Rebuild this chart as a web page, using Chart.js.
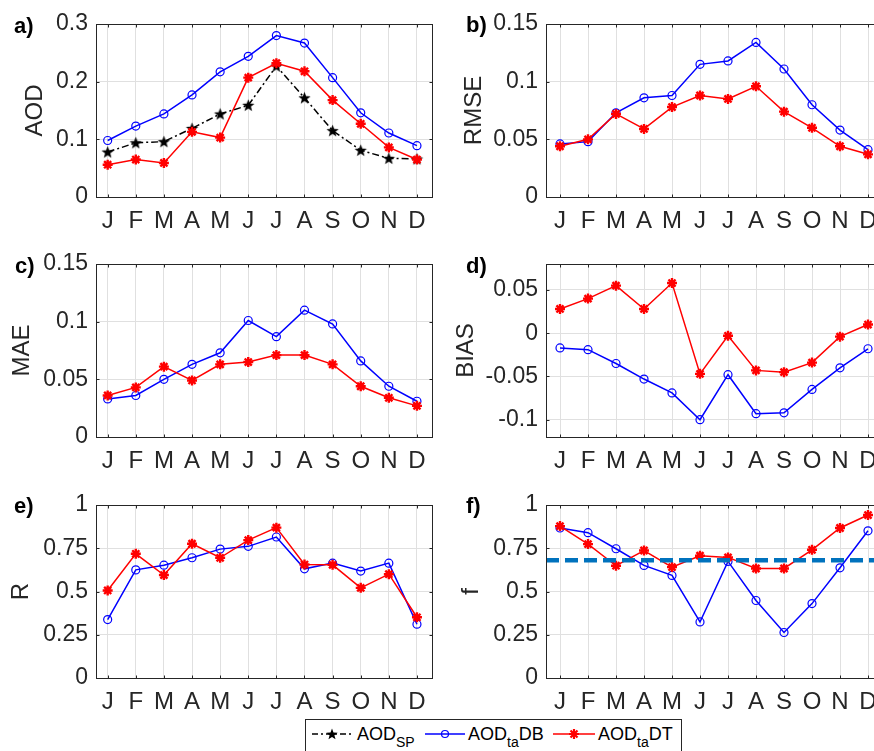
<!DOCTYPE html>
<html>
<head>
<meta charset="utf-8">
<script src="https://cdn.jsdelivr.net/npm/chart.js@4.4.0/dist/chart.umd.min.js"></script>
<style>
  html, body { margin: 0; padding: 0; background: #fff; width: 874px; height: 751px; overflow: hidden; }
  body { position: relative; font-family: 'Liberation Sans', Arial, sans-serif; }
  canvas { position: absolute; }
  .lbl { position: absolute; font: bold 22px 'Liberation Sans', Arial, sans-serif; line-height: 1; color: #000; }
  #legend { position: absolute; left: 305px; top: 719px; width: 375px; height: 50px; border: 1px solid #262626; background: #fff; }
  .lg { position: absolute; top: 725px; font-size: 18px; line-height: 1; color: #000; white-space: nowrap; }
  .lg sub { font-size: 14px; vertical-align: -7px; line-height: 0; }
  svg { position: absolute; }
</style>
</head>
<body>
<canvas id="pa" width="440" height="235" style="left:0;top:0"></canvas>
<canvas id="pb" width="450" height="235" style="left:440px;top:0"></canvas>
<canvas id="pc" width="440" height="235" style="left:0;top:240px"></canvas>
<canvas id="pd" width="450" height="235" style="left:440px;top:240px"></canvas>
<canvas id="pe" width="440" height="235" style="left:0;top:480px"></canvas>
<canvas id="pf" width="450" height="235" style="left:440px;top:480px"></canvas>

<div class="lbl" style="left:14px;top:15px">a)</div>
<div class="lbl" style="left:466px;top:14px">b)</div>
<div class="lbl" style="left:15px;top:255px">c)</div>
<div class="lbl" style="left:466px;top:255px">d)</div>
<div class="lbl" style="left:14px;top:495px">e)</div>
<div class="lbl" style="left:466px;top:495px">f)</div>

<div id="legend"></div>
<svg style="left:310px;top:726px" width="46" height="16">
  <line x1="2" y1="8" x2="43" y2="8" stroke="#000" stroke-width="1.5" stroke-dasharray="6,3,2,3"/>
  <polygon id="lgStar" fill="#000" points=""/>
</svg>
<div class="lg" style="left:357px">AOD<sub>SP</sub></div>
<svg style="left:423px;top:726px" width="46" height="16">
  <line x1="2" y1="8" x2="42" y2="8" stroke="#0000ff" stroke-width="1.5"/>
  <circle cx="22" cy="8" r="3.5" fill="none" stroke="#0000ff" stroke-width="1.2"/>
</svg>
<div class="lg" style="left:468px">AOD<sub>ta</sub>DB</div>
<svg style="left:551px;top:726px" width="46" height="16">
  <line x1="2" y1="8" x2="44" y2="8" stroke="#ff0000" stroke-width="1.5"/>
  <path d="M23 3 V13 M18 8 H28 M19.5 4.5 L26.5 11.5 M26.5 4.5 L19.5 11.5" stroke="#ff0000" stroke-width="2.2"/>
</svg>
<div class="lg" style="left:598px">AOD<sub>ta</sub>DT</div>

<script>
// ── Data ──────────────────────────────────────
const months = ['J', 'F', 'M', 'A', 'M', 'J', 'J', 'A', 'S', 'O', 'N', 'D'];

const aodSP  = [0.078, 0.094, 0.096, 0.119, 0.144, 0.159, 0.227, 0.172, 0.115, 0.081, 0.067, 0.066];
const aodDB  = [0.098, 0.123, 0.144, 0.177, 0.217, 0.244, 0.280, 0.267, 0.207, 0.146, 0.111, 0.089];
const aodDT  = [0.056, 0.065, 0.059, 0.113, 0.103, 0.207, 0.232, 0.218, 0.168, 0.127, 0.086, 0.065];

const rmseDB = [0.046, 0.048, 0.073, 0.086, 0.088, 0.115, 0.118, 0.134, 0.111, 0.080, 0.058, 0.041];
const rmseDT = [0.044, 0.050, 0.072, 0.059, 0.078, 0.088, 0.085, 0.096, 0.074, 0.060, 0.044, 0.037];

const maeDB  = [0.033, 0.036, 0.050, 0.063, 0.073, 0.101, 0.087, 0.110, 0.098, 0.066, 0.044, 0.031];
const maeDT  = [0.036, 0.043, 0.061, 0.049, 0.063, 0.065, 0.071, 0.071, 0.063, 0.044, 0.034, 0.027];

const biasDB = [-0.017, -0.019, -0.035, -0.053, -0.069, -0.100, -0.048, -0.093, -0.092, -0.065, -0.040, -0.018];
const biasDT = [0.028, 0.040, 0.055, 0.028, 0.058, -0.047, -0.003, -0.043, -0.045, -0.034, -0.004, 0.010];

const rDB    = [0.338, 0.625, 0.652, 0.695, 0.745, 0.761, 0.815, 0.631, 0.664, 0.618, 0.664, 0.311];
const rDT    = [0.506, 0.718, 0.595, 0.776, 0.695, 0.797, 0.869, 0.656, 0.654, 0.521, 0.600, 0.351];

const fDB    = [0.867, 0.840, 0.747, 0.651, 0.593, 0.324, 0.674, 0.448, 0.263, 0.430, 0.637, 0.851];
const fDT    = [0.878, 0.774, 0.649, 0.737, 0.641, 0.707, 0.697, 0.633, 0.633, 0.741, 0.867, 0.942];
const fRef   = 0.68;

// tick values per panel
const aodTicks  = [0, 0.1, 0.2, 0.3];
const rmseTicks = [0, 0.05, 0.1, 0.15];
const maeTicks  = [0, 0.05, 0.1, 0.15];
const biasTicks = [-0.1, -0.05, 0, 0.05];
const rTicks    = [0, 0.25, 0.5, 0.75, 1];
const fTicks    = [0, 0.25, 0.5, 0.75, 1];

// ── Styles ────────────────────────────────────
const FONT = "'Liberation Sans', Arial, sans-serif";
const AXIS = '#262626';
const GRID = '#e0e0e0';

function starPoints(r, cx, cy) {
  const pts = [];
  for (let i = 0; i < 10; i++) {
    const rad = i % 2 ? r * 0.42 : r;
    const a = -Math.PI / 2 + i * Math.PI / 5;
    pts.push([cx + rad * Math.cos(a), cy + rad * Math.sin(a)]);
  }
  return pts;
}

function makePentagram(r) {
  const c = document.createElement('canvas');
  const s = Math.ceil(r * 2 + 2);
  c.width = c.height = s;
  const g = c.getContext('2d');
  g.beginPath();
  starPoints(r, s / 2, s / 2 + 0.5).forEach(([x, y]) => g.lineTo(x, y));
  g.closePath();
  g.fillStyle = '#000';
  g.fill();
  return c;
}
const pentagram = makePentagram(6.5);

// legend star uses the same shape
document.getElementById('lgStar').setAttribute('points',
  starPoints(6, 22, 8.5).map(p => p[0].toFixed(2) + ',' + p[1].toFixed(2)).join(' '));

const toPoints = vals => vals.map((v, i) => ({ x: i + 1, y: v }));

function spSet(vals) {
  return {
    data: toPoints(vals), borderColor: '#000', borderWidth: 1.5, borderDash: [7, 3, 2, 3],
    pointStyle: pentagram, pointRadius: 6, tension: 0,
  };
}
function dbSet(vals) {
  return {
    data: toPoints(vals), borderColor: '#0000ff', borderWidth: 1.5,
    pointStyle: 'circle', pointRadius: 4, pointBorderWidth: 1.2,
    pointBorderColor: '#0000ff', pointBackgroundColor: 'rgba(0,0,0,0)', tension: 0,
  };
}
function dtSet(vals) {
  return {
    data: toPoints(vals), borderColor: '#ff0000', borderWidth: 1.5,
    pointStyle: 'star', pointRadius: 5, pointBorderWidth: 2.4,
    pointBorderColor: '#ff0000', pointBackgroundColor: '#ff0000', tension: 0,
  };
}

// ── MATLAB-style box + inner ticks ────────────
const boxPlugin = {
  id: 'matlabBox',
  afterDatasetsDraw(chart) {
    const { ctx, chartArea: a, scales: { x, y } } = chart;
    const L = Math.round(a.left) + 0.5, R = Math.round(a.right) + 0.5;
    const T = Math.round(a.top) + 0.5, B = Math.round(a.bottom) + 0.5;
    ctx.save();
    ctx.strokeStyle = AXIS;
    ctx.lineWidth = 1;
    ctx.beginPath();
    x.ticks.forEach(t => {
      const px = Math.round(x.getPixelForValue(t.value)) + 0.5;
      ctx.moveTo(px, B); ctx.lineTo(px, B - 3);
      ctx.moveTo(px, T); ctx.lineTo(px, T + 3);
    });
    y.ticks.forEach(t => {
      const py = Math.round(y.getPixelForValue(t.value)) + 0.5;
      ctx.moveTo(L, py); ctx.lineTo(L + 3, py);
      ctx.moveTo(R, py); ctx.lineTo(R - 3, py);
    });
    ctx.stroke();
    ctx.strokeRect(L, T, R - L, B - T);
    ctx.restore();
  }
};

// ── Panel builder ─────────────────────────────
function buildPanel(id, cfg) {
  return new Chart(document.getElementById(id), {
    type: 'line',
    data: { datasets: cfg.datasets },
    options: {
      responsive: false,
      animation: false,
      devicePixelRatio: 1,
      layout: { padding: { top: cfg.top, right: 8, left: 0, bottom: 0 } },
      plugins: { legend: { display: false }, tooltip: { enabled: false } },
      scales: {
        x: {
          type: 'linear', min: cfg.xMin, max: cfg.xMax,
          afterBuildTicks: s => { s.ticks = months.map((m, i) => ({ value: i + 1 })); },
          afterFit: s => { s.height = cfg.xH; },
          grid: { color: GRID, drawTicks: false },
          border: { display: false },
          ticks: {
            autoSkip: false, maxRotation: 0, padding: 10, color: AXIS,
            font: { family: FONT, size: 24 },
            callback: v => months[v - 1],
          },
        },
        y: {
          min: cfg.yMin, max: cfg.yMax,
          afterBuildTicks: s => { s.ticks = cfg.yTicks.map(v => ({ value: v })); },
          afterFit: s => { s.width = cfg.yW; },
          grid: { color: GRID, drawTicks: false },
          border: { display: false },
          ticks: { padding: 8, color: AXIS, font: { family: FONT, size: 23 }, callback: v => String(v) },
          title: {
            display: true, text: cfg.title, color: AXIS,
            font: { family: FONT, size: 24 },
            padding: { top: cfg.titlePad, bottom: 0 },
          },
        },
      },
    },
    plugins: [boxPlugin],
  });
}

const LEFT  = { yW: 96,  xMin: 0.585, xMax: 12.535, xH: 38 };
const RIGHT = { yW: 106, xMin: 0.5,   xMax: 12.5,   xH: 38 };

buildPanel('pa', { ...LEFT, top: 24, yMin: 0, yMax: 0.3, yTicks: aodTicks, title: 'AOD', titlePad: 21,
  datasets: [dtSet(aodDT), dbSet(aodDB), spSet(aodSP)] });

buildPanel('pb', { ...RIGHT, top: 24, yMin: 0, yMax: 0.15, yTicks: rmseTicks, title: 'RMSE', titlePad: 20,
  datasets: [dtSet(rmseDT), dbSet(rmseDB)] });

buildPanel('pc', { ...LEFT, top: 24, yMin: 0, yMax: 0.15, yTicks: maeTicks, title: 'MAE', titlePad: 8,
  datasets: [dtSet(maeDT), dbSet(maeDB)] });

buildPanel('pd', { ...RIGHT, top: 24, yMin: -0.12, yMax: 0.08, yTicks: biasTicks, title: 'BIAS', titlePad: 12,
  datasets: [dtSet(biasDT), dbSet(biasDB)] });

buildPanel('pe', { ...LEFT, top: 25, xH: 37, yMin: 0, yMax: 1, yTicks: rTicks, title: 'R', titlePad: 7,
  datasets: [dtSet(rDT), dbSet(rDB)] });

buildPanel('pf', { ...RIGHT, top: 25, xH: 37, yMin: 0, yMax: 1, yTicks: fTicks, title: 'f', titlePad: 17,
  datasets: [
    { data: [{ x: RIGHT.xMin, y: fRef }, { x: RIGHT.xMax, y: fRef }], borderColor: '#0072bd',
      borderWidth: 4.5, borderDash: [13, 6], pointRadius: 0 },
    dtSet(fDT), dbSet(fDB),
  ] });
</script>
</body>
</html>
